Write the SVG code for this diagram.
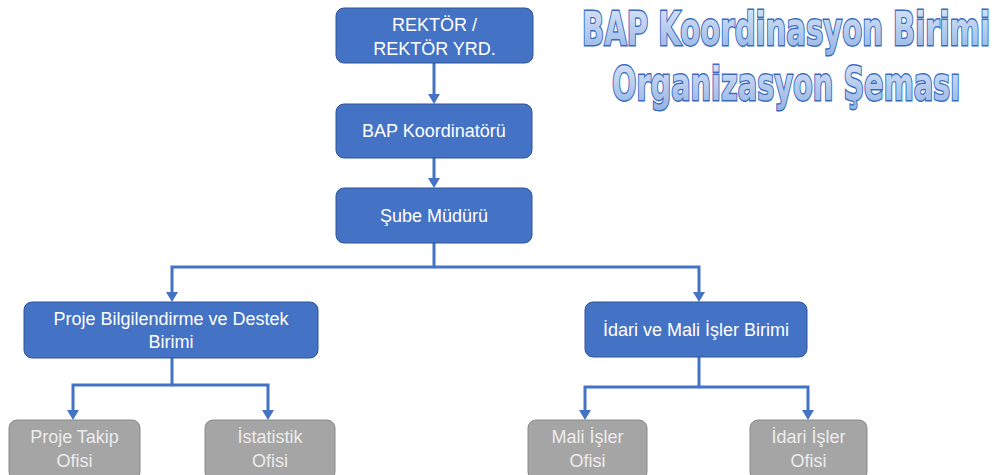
<svg xmlns="http://www.w3.org/2000/svg" width="1002" height="475" viewBox="0 0 1002 475">
<style>
.blue{fill:#4472c4;stroke:#2f5597;stroke-width:1}
.gray{fill:#a5a5a5;stroke:#8a8a8a;stroke-width:1}
.t{font-family:"Liberation Sans",Arial,sans-serif;font-size:18px;fill:#ffffff;text-anchor:middle}
.tg{font-family:"Liberation Sans",Arial,sans-serif;font-size:18px;fill:#ececec;text-anchor:middle}
.c{fill:none;stroke:#4472c4;stroke-width:3}
.title{font-family:"DejaVu Sans",sans-serif;font-weight:bold;font-size:32px;fill:url(#tg);stroke:#3a6bbf;stroke-width:2;text-anchor:middle;paint-order:stroke}
</style>
<defs>
<linearGradient id="tg" x1="0" y1="0" x2="0" y2="1">
<stop offset="0" stop-color="#dbe6f8"/>
<stop offset="1" stop-color="#94b3e4"/>
</linearGradient>
</defs>
<rect width="1002" height="475" fill="#ffffff"/>

<g id="title">
<text class="title" transform="translate(786,45) scale(0.91,1.42)">BAP Koordinasyon Birimi</text>
<text class="title" transform="translate(786,100) scale(0.9,1.42)">Organizasyon Şeması</text>
</g>

<g id="connectors">
<path class="c" d="M434,63 V100"/>
<path class="c" d="M434,158 V184"/>
<path class="c" d="M434,243 V267 H172 V298"/>
<path class="c" d="M434,267 H699 V298"/>
<path class="c" d="M172,358 V385 H73 V416"/>
<path class="c" d="M172,385 H268 V416"/>
<path class="c" d="M699,357 V387 H585 V416"/>
<path class="c" d="M699,387 H808 V416"/>
<g fill="#4472c4">
<path d="M428,94 L440,94 L434,104 Z"/>
<path d="M428,178 L440,178 L434,188 Z"/>
<path d="M166,292 L178,292 L172,302 Z"/>
<path d="M693,292 L705,292 L699,302 Z"/>
<path d="M67,410 L79,410 L73,420 Z"/>
<path d="M262,410 L274,410 L268,420 Z"/>
<path d="M579,410 L591,410 L585,420 Z"/>
<path d="M802,410 L814,410 L808,420 Z"/>
</g>
</g>

<g id="rektor">
<rect class="blue" x="336" y="8" width="197" height="55" rx="8"/>
<text class="t" x="434.5" y="31">REKTÖR /</text>
<text class="t" x="434.5" y="55">REKTÖR YRD.</text>
</g>
<g id="bap-koordinatoru">
<rect class="blue" x="336" y="104" width="196" height="54" rx="8"/>
<text class="t" x="434" y="137">BAP Koordinatörü</text>
</g>
<g id="sube-muduru">
<rect class="blue" x="336" y="188" width="196" height="55" rx="8"/>
<text class="t" x="434" y="222">Şube Müdürü</text>
</g>
<g id="proje-bilgilendirme">
<rect class="blue" x="24" y="302" width="294" height="56" rx="8"/>
<text class="t" x="171" y="325">Proje Bilgilendirme ve Destek</text>
<text class="t" x="171" y="348">Birimi</text>
</g>
<g id="idari-mali">
<rect class="blue" x="585" y="302" width="222" height="55" rx="8"/>
<text class="t" x="696" y="336">İdari ve Mali İşler Birimi</text>
</g>
<g id="proje-takip">
<rect class="gray" x="9" y="420" width="131" height="60" rx="8"/>
<text class="tg" x="74.5" y="443">Proje Takip</text>
<text class="tg" x="74.5" y="467">Ofisi</text>
</g>
<g id="istatistik">
<rect class="gray" x="205" y="420" width="130" height="60" rx="8"/>
<text class="tg" x="270" y="443">İstatistik</text>
<text class="tg" x="270" y="467">Ofisi</text>
</g>
<g id="mali-isler">
<rect class="gray" x="528" y="420" width="119" height="60" rx="8"/>
<text class="tg" x="587.5" y="443">Mali İşler</text>
<text class="tg" x="587.5" y="467">Ofisi</text>
</g>
<g id="idari-isler">
<rect class="gray" x="750" y="420" width="117" height="60" rx="8"/>
<text class="tg" x="808.5" y="443">İdari İşler</text>
<text class="tg" x="808.5" y="467">Ofisi</text>
</g>
</svg>
